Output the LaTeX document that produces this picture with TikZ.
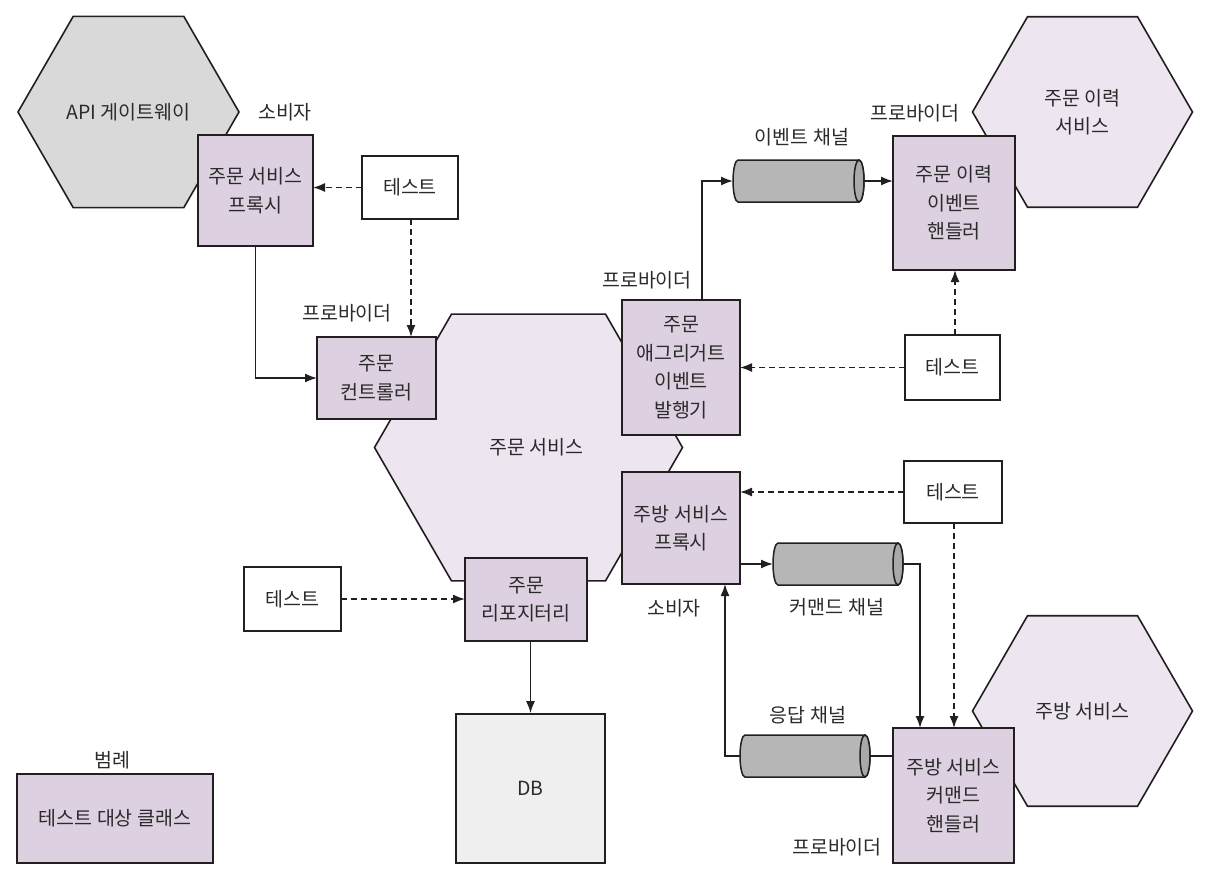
\documentclass[tikz,border=0pt]{standalone}
\usepackage{fontspec}
\setmainfont{Noto Sans CJK KR}
\usetikzlibrary{arrows.meta,shapes.geometric,calc}

\definecolor{ink}{HTML}{231F20}
\definecolor{txt}{HTML}{2B2B2B}
\definecolor{classfill}{HTML}{DDD0E0}
\definecolor{svcfill}{HTML}{EDE5F0}
\definecolor{gwfill}{HTML}{D9D9D9}
\definecolor{dbfill}{HTML}{EFEFEF}
\definecolor{chbody}{HTML}{B5B6B5}
\definecolor{chend}{HTML}{A8AAA8}

\tikzset{
  every node/.style={text=txt, font=\fontsize{19.5pt}{28.5pt}\selectfont, align=center},
  hexsvc/.style={regular polygon, regular polygon sides=6, draw=ink, line width=1.6pt,
                 fill=svcfill, inner sep=0pt, outer sep=0pt},
  classbox/.style={rectangle, draw=ink, line width=1.8pt, fill=classfill, inner sep=0pt, outer sep=0pt},
  testbox/.style={rectangle, draw=ink, line width=1.8pt, fill=white, inner sep=0pt, outer sep=0pt},
  tag/.style={inner sep=0pt},
  conn/.style={draw=ink, line width=1.6pt, -{Latex[length=12pt,width=9pt]}},
  plainconn/.style={draw=ink, line width=1.6pt},
  testconn/.style={conn, dash pattern=on 6pt off 4pt},
}

% a horizontal message channel: name, centre x, centre y, length
\newcommand\drawchannel[4]{%
  \node[inner sep=0pt, outer sep=0pt, minimum width=#4pt, minimum height=42pt] (#1) at (#2,#3) {};
  \path[fill=chbody, draw=ink, line width=1.5pt]
    ([xshift=5pt]#1.north west) -- ([xshift=-5pt]#1.north east)
    arc[start angle=90, end angle=-90, x radius=5pt, y radius=21pt]
    -- ([xshift=5pt]#1.south west)
    arc[start angle=270, end angle=90, x radius=5pt, y radius=21pt] -- cycle;
  \draw[fill=chend, draw=ink, line width=1.5pt] ([xshift=-5pt]#1.east) ellipse[x radius=5pt, y radius=21pt];
}

\begin{document}
\begin{tikzpicture}[x=1pt, y=-1pt]
\useasboundingbox[fill=white] (0,0) rectangle (1216,870);

% services (hexagons)
\node[hexsvc, fill=gwfill, minimum size=221pt] (gw) at (128.5,112) {API 게이트웨이};
\node[hexsvc, minimum size=308pt, label={[xshift=8pt]center:주문 서비스}] (order) at (528.5,447.5) {};
\node[hexsvc, minimum size=220pt] (hist) at (1082.5,112) {주문 이력\\서비스};
\node[hexsvc, minimum size=220pt] (kitchen) at (1082.5,711) {주방 서비스};

% classes under test
\node[classbox, minimum width=115pt, minimum height=111pt] (oproxy) at (255.5,190.5) {주문 서비스\\프록시};
\node[classbox, minimum width=119pt, minimum height=82pt] (ctrl) at (376.5,378) {주문\\컨트롤러};
\node[classbox, minimum width=118pt, minimum height=135pt] (pub) at (681,367.5) {주문\\애그리거트\\이벤트\\발행기};
\node[classbox, minimum width=118pt, minimum height=112pt] (kproxy) at (681,528) {주방 서비스\\프록시};
\node[classbox, minimum width=122pt, minimum height=83pt] (repo) at (526,599.5) {주문\\리포지터리};
\node[classbox, minimum width=122pt, minimum height=134pt] (hhandler) at (954,203) {주문 이력\\이벤트\\핸들러};
\node[classbox, minimum width=121pt, minimum height=135pt] (khandler) at (953.5,795.5) {주방 서비스\\커맨드\\핸들러};

% database
\node[rectangle, draw=ink, line width=1.8pt, fill=dbfill, minimum width=149pt, minimum height=149pt] (db) at (530.5,788.5) {DB};

% tests
\node[testbox, minimum width=96pt, minimum height=63pt] (t1) at (410,187.5) {테스트};
\node[testbox, minimum width=95pt, minimum height=65pt] (t2) at (952.5,367.5) {테스트};
\node[testbox, minimum width=98pt, minimum height=62pt] (t3) at (953,492) {테스트};
\node[testbox, minimum width=97pt, minimum height=64pt] (t4) at (292.5,599) {테스트};

% channels
\drawchannel{evch}{798.5}{181}{131}
\drawchannel{cmdch}{838}{564}{130}
\drawchannel{repch}{805}{756}{130}

% role labels
\node[tag] (l1) at (285,112) {소비자};
\node[tag] (l2) at (347,313) {프로바이더};
\node[tag] (l3) at (647,280) {프로바이더};
\node[tag] (l4) at (802,137) {이벤트 채널};
\node[tag] (l5) at (915,113) {프로바이더};
\node[tag] (l6) at (674,608) {소비자};
\node[tag] (l7) at (837,607) {커맨드 채널};
\node[tag] (l8) at (808,715) {응답 채널};
\node[tag] (l9) at (837,847) {프로바이더};

% legend
\node[tag] (legtitle) at (112,760) {범례};
\node[classbox, minimum width=196pt, minimum height=89pt] (legend) at (115,818.5) {테스트 대상 클래스};

% tests driving their classes
\draw[testconn] (t1.west) -- (t1.west -| oproxy.east);
\draw[testconn] ([xshift=1pt]t1.south) -- ([xshift=1pt]t1.south |- ctrl.north);
\draw[testconn] (t2.west) -- (t2.west -| pub.east);
\draw[testconn] ([xshift=2.5pt]t2.north) -- ([xshift=2.5pt]t2.north |- hhandler.south);
\draw[testconn] (t3.west) -- (t3.west -| kproxy.east);
\draw[testconn] ([xshift=1pt]t3.south) -- ([xshift=1pt]t3.south |- khandler.north);
\draw[testconn] (t4.east) -- (t4.east -| repo.west);

% runtime flow
\draw[conn] (oproxy.south) |- (ctrl.west);
\draw[conn] ([xshift=21pt]pub.north) |- (evch.west);
\draw[conn] (evch.east) -- (evch.east -| hhandler.west);
\draw[conn] (cmdch.west -| kproxy.east) -- (cmdch.west);
\draw[conn] (cmdch.east) -| ([xshift=-33.5pt]khandler.north);
\draw[plainconn] (repch.east -| khandler.west) -- (repch.east);
\draw[conn] (repch.west) -| ([xshift=103pt]kproxy.south west);
\draw[conn] (db.north |- repo.south) -- (db.north);
\end{tikzpicture}
\end{document}
